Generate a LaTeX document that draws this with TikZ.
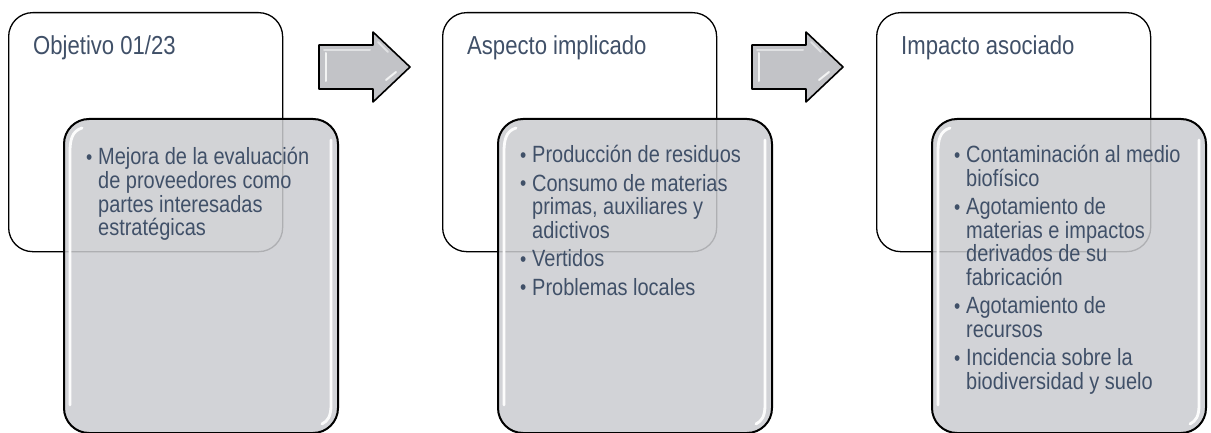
\documentclass[tikz,border=0pt]{standalone}
\usepackage{fontspec}
\setmainfont[FakeStretch=0.85]{Liberation Sans}
\definecolor{txt}{RGB}{64,80,104}
\definecolor{grayfill}{RGB}{203,204,208}
\definecolor{arrowfill}{RGB}{194,195,199}
\newcommand{\bitem}[1]{\par\hangindent=12pt\hangafter=1\noindent\makebox[12pt][l]{\raisebox{0.5pt}{\fontsize{21}{21}\selectfont •}}#1}
\newcommand{\bullets}[1]{\parbox[t]{300pt}{\raggedright\fontsize{23.5}{23.5}\selectfont\setlength{\parskip}{5pt}#1}}
\tikzset{
  whitebox/.style={draw=black, line width=1.3pt, fill=white, rounded corners=24pt,
    minimum width=274pt, minimum height=239pt, anchor=north west, inner sep=0pt},
  graybox/.style={draw=black, line width=2pt, fill=grayfill, fill opacity=0.86, rounded corners=25pt,
    minimum width=274pt, minimum height=314pt, anchor=north west, inner sep=0pt},
  titletext/.style={anchor=base west, inner sep=0pt, text=txt, font=\fontsize{26}{26}\selectfont},
  bullettext/.style={anchor=base west, inner sep=0pt, text=txt},
  hl/.style={draw=white, line width=2.8pt, line cap=round, opacity=0.95},
  arrowshape/.style={draw=black, line width=1.6pt, line join=round, fill=arrowfill},
  arrowhl/.style={draw=white, line width=2pt, line cap=round, opacity=0.8}
}
\begin{document}
\begin{tikzpicture}[x=1pt,y=-1pt]
\useasboundingbox (0,0) rectangle (1211,433);
% white boxes
\node[whitebox] (w1) at (8,12) {};
\node[whitebox] (w2) at (442,12) {};
\node[whitebox] (w3) at (876,12) {};
% titles
\node[titletext] (t1) at (33,55) {Objetivo 01/23};
\node[titletext] (t2) at (467,55) {Aspecto implicado};
\node[titletext] (t3) at (901,55) {Impacto asociado};
% gray boxes
\node[graybox] (g1) at (63,118) {};
\node[graybox] (g2) at (497,118) {};
\node[graybox] (g3) at (931,118) {};
% highlights
\foreach \dx in {0,434,868}{
  \begin{scope}[xshift=\dx pt]
  \draw[hl] (82,128) .. controls (72,131) and (70,140) .. (70,152) -- (70,405);
  \draw[hl] (331,140) -- (331,405) .. controls (331,416) and (328,421) .. (322,424);
  \end{scope}
}
% bullet texts
\node[bullettext] (b1) at (86,165) {\bullets{%
\bitem{Mejora de la evaluación\newline de proveedores como\newline partes interesadas\newline estratégicas}}};
\node[bullettext] (b2) at (520,163) {\bullets{%
\bitem{Producción de residuos}
\bitem{Consumo de materias\newline primas, auxiliares y\newline adictivos}
\bitem{Vertidos}
\bitem{Problemas locales}}};
\node[bullettext] (b3) at (954,163) {\bullets{%
\bitem{Contaminación al medio\newline biofísico}
\bitem{Agotamiento de\newline materias e impactos\newline derivados de su\newline fabricación}
\bitem{Agotamiento de\newline recursos}
\bitem{Incidencia sobre la\newline biodiversidad y suelo}}};
% arrows
\foreach \dx in {0,433}{
  \begin{scope}[xshift=\dx pt]
  \draw[arrowshape] (319,45) -- (373,45) -- (373,32) -- (410,67) -- (373,102) -- (373,89) -- (319,89) -- cycle;
  \draw[arrowhl] (326,53) -- (326,81);
  \draw[arrowhl, opacity=0.5] (324,50) -- (370,50);
  \draw[arrowhl] (386,80) -- (396,72);
  \draw[arrowhl, opacity=0.5] (378,42) -- (388,52);
  \end{scope}
}
\end{tikzpicture}
\end{document}
